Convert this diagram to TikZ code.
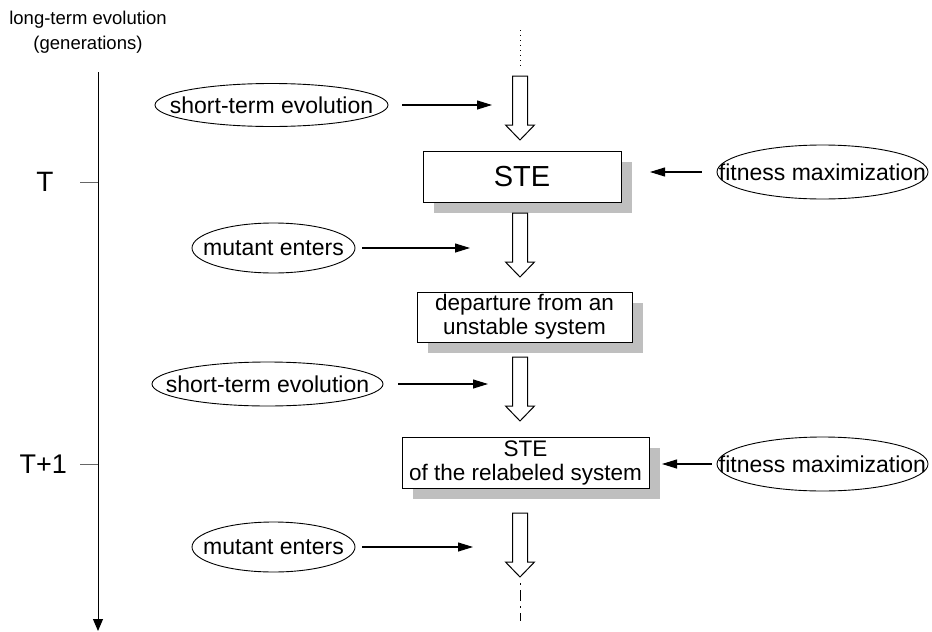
\documentclass[tikz,border=0pt]{standalone}
\usepackage{fontspec}
\setmainfont{Liberation Sans}
\usetikzlibrary{arrows.meta,shapes.geometric,shadows}
\tikzset{
  stagebox/.style={draw,fill=white,line width=1pt,inner sep=0pt,align=center,
    font=\fontsize{22.5}{24}\selectfont,
    drop shadow={shadow xshift=11pt,shadow yshift=-11pt,fill=black!25,opacity=1}},
  bubble/.style={draw,ellipse,line width=0.9pt,inner sep=0pt,
    font=\fontsize{23}{24}\selectfont},
  hollow/.style={draw,fill=white,line width=1pt,-},
  axistick/.style={draw=black!60,line width=1pt,-},
  every edge/.style={draw,->,line width=1.1pt},
}

\begin{document}
\begin{tikzpicture}[x=1pt,y=-1pt,>={Triangle[length=15pt,width=9pt]}]
\useasboundingbox (0,0) rectangle (932,632);

% generations axis
\node[font=\fontsize{18.5}{25}\selectfont,align=center] (axlabel) at (88,32) {long-term evolution\\(generations)};
\coordinate (axtop) at (98,72);
\coordinate (axbot) at (98,631);
\draw[->,line width=1pt,>={Triangle[length=12pt,width=10pt]}] (axtop) -- (axbot);
\coordinate (tickT) at (98,182);
\coordinate (tickTT) at (98,464);
\draw[axistick] (tickT) -- ++(-18,0);
\draw[axistick] (tickTT) -- ++(-18,0);
\node[font=\fontsize{28}{30}\selectfont] (labT) at (45,182) {T};
\node[font=\fontsize{27}{30}\selectfont,anchor=east,inner sep=0pt] (labTT) at (67,464) {T+1};

% stages
\node[stagebox,minimum width=198pt,minimum height=51pt,font=\fontsize{29}{30}\selectfont] (ste) at (522,176.5) {STE};
\node[stagebox,minimum width=215pt,minimum height=50pt] (depart) at (524.5,317) {departure from an\\unstable system};
\node[stagebox,minimum width=247pt,minimum height=51pt] (relab) at (525.5,462.5) {STE\\of the relabeled system};

% big hollow arrows
\coordinate (hA) at (520,76);
\coordinate (hB) at (520,213);
\coordinate (hC) at (520,357);
\coordinate (hD) at (520,513);
\draw[hollow] (hA) ++(-7.5,0) -- ++(0,49) -- ++(-7,0) -- ++(14.5,15) -- ++(14.5,-15) -- ++(-7,0) -- ++(0,-49) -- cycle;
\draw[hollow] (hB) ++(-7.5,0) -- ++(0,49) -- ++(-7,0) -- ++(14.5,15) -- ++(14.5,-15) -- ++(-7,0) -- ++(0,-49) -- cycle;
\draw[hollow] (hC) ++(-7.5,0) -- ++(0,49) -- ++(-7,0) -- ++(14.5,15) -- ++(14.5,-15) -- ++(-7,0) -- ++(0,-49) -- cycle;
\draw[hollow] (hD) ++(-7.5,0) -- ++(0,49) -- ++(-7,0) -- ++(14.5,15) -- ++(14.5,-15) -- ++(-7,0) -- ++(0,-49) -- cycle;

% continuation marks
\coordinate (dtop) at (520,30);
\coordinate (dbot) at (520,67);
\draw[line width=0.8pt,dash pattern=on 1pt off 4pt] (dtop) -- (dbot);
\coordinate (etop) at (520,583);
\coordinate (ebot) at (520,621);
\draw[line width=0.9pt,dash pattern=on 2pt off 5pt on 11pt off 5pt] (etop) -- (ebot);

% influences
\node[bubble,minimum width=233pt,minimum height=43pt] (shortA) at (271.5,105) {\makebox[0pt]{short-term evolution}};
\node[bubble,minimum width=163pt,minimum height=50pt] (mutA) at (273.5,248) {\makebox[0pt]{mutant enters}};
\node[bubble,minimum width=231pt,minimum height=44pt] (shortB) at (267.5,384) {\makebox[0pt]{short-term evolution}};
\node[bubble,minimum width=163pt,minimum height=50pt] (mutB) at (273.5,547) {\makebox[0pt]{mutant enters}};
\node[bubble,minimum width=211pt,minimum height=54pt] (fitA) at (822.5,172) {\makebox[0pt]{fitness maximization}};
\node[bubble,minimum width=211pt,minimum height=54pt] (fitB) at (822.5,464) {\makebox[0pt]{fitness maximization}};

\coordinate (inA) at (492,105);
\coordinate (inB) at (470,248);
\coordinate (inC) at (488,384);
\coordinate (inD) at (473,547);
\coordinate (outA) at (650,172);
\coordinate (outB) at (662,464);

\path
(shortA) edge[shorten <=14pt] (inA)
(mutA) edge[shorten <=7pt] (inB)
(shortB) edge[shorten <=15pt] (inC)
(mutB) edge[shorten <=7pt] (inD)
(fitA) edge[shorten <=15pt] (outA)
(fitB) edge[shorten <=5pt] (outB);

\end{tikzpicture}
\end{document}
